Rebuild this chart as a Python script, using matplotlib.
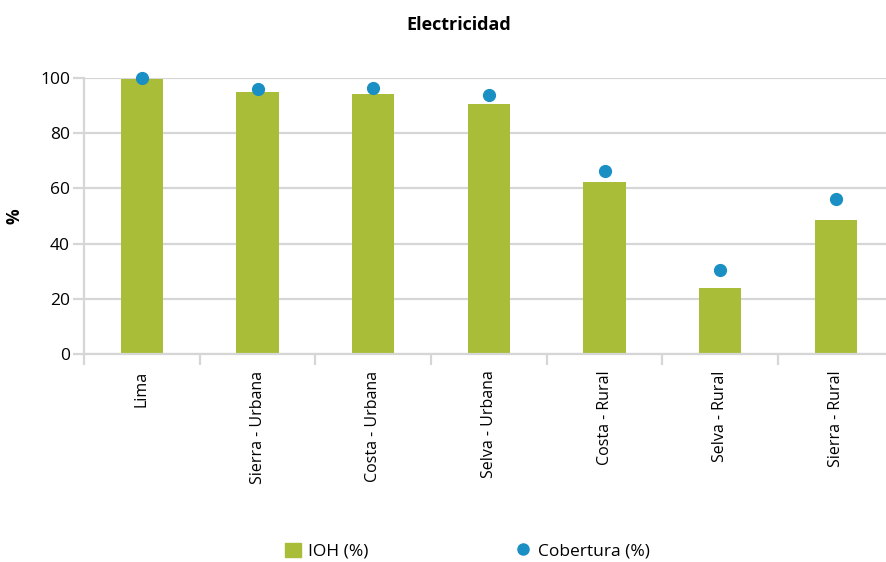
import matplotlib.pyplot as plt
from matplotlib.patches import Patch
from matplotlib.lines import Line2D
import numpy as np

# datos
regiones = ["Lima", "Sierra - Urbana", "Costa - Urbana", "Selva - Urbana",
            "Costa - Rural", "Selva - Rural", "Sierra - Rural"]
ioh = [99.6, 94.9, 94.3, 90.6, 62.3, 23.9, 48.6]
cobertura = [100.0, 96.2, 96.4, 93.8, 66.3, 30.3, 56.3]

verde = "#A9BD38"
azul = "#1A8FC4"
gris = "#D6D6D6"

plt.rcParams['font.family'] = ['Open Sans', 'DejaVu Sans']

fig = plt.figure(figsize=(8.87, 5.62), dpi=100)
ax = fig.add_axes([0.0947, 0.370, 0.913, 0.491])

x = np.arange(len(regiones))
ax.bar(x, ioh, width=0.365, color=verde, zorder=2)
ax.scatter(x, cobertura, s=72, color=azul, zorder=3, clip_on=False)

ax.set_xlim(-0.5, len(regiones) - 0.5)
ax.set_ylim(0, 100)
ax.set_yticks(range(0, 101, 20))
ax.grid(axis="y", color=gris, linewidth=1.6, zorder=0)

# ticks del eje x en los límites de cada categoría, etiquetas en el centro
ax.set_xticks(np.arange(-0.5, len(regiones), 1.0))
ax.set_xticklabels([])
ax.set_xticks(x, minor=True)
ax.set_xticklabels(regiones, minor=True, rotation=90, fontsize=11.5)
ax.tick_params(axis="x", which="major", length=8, width=1.6, color=gris)
ax.tick_params(axis="x", which="minor", length=0, pad=12)
ax.tick_params(axis="y", length=8, width=1.6, color=gris, labelsize=12.5, pad=2)

for s in ["top", "right"]:
    ax.spines[s].set_visible(False)
for s in ["left", "bottom"]:
    ax.spines[s].set_color(gris)
    ax.spines[s].set_linewidth(1.6)

ax.set_ylabel("%", fontsize=12.5, fontweight="bold", labelpad=12)
fig.text(0.517, 0.955, "Electricidad", ha="center", va="center",
         fontsize=13, fontweight="bold")

handles = [Patch(color=verde, label="IOH (%)"),
           Line2D([], [], marker="o", linestyle="", color=azul,
                  markersize=8, label="Cobertura (%)")]
fig.legend(handles=handles, loc="center", bbox_to_anchor=(0.527, 0.019),
           ncol=2, frameon=False, fontsize=12.5, columnspacing=8.5,
           handlelength=0.9, handleheight=0.9, handletextpad=0.4)

fig.savefig("out.png", dpi=100)
